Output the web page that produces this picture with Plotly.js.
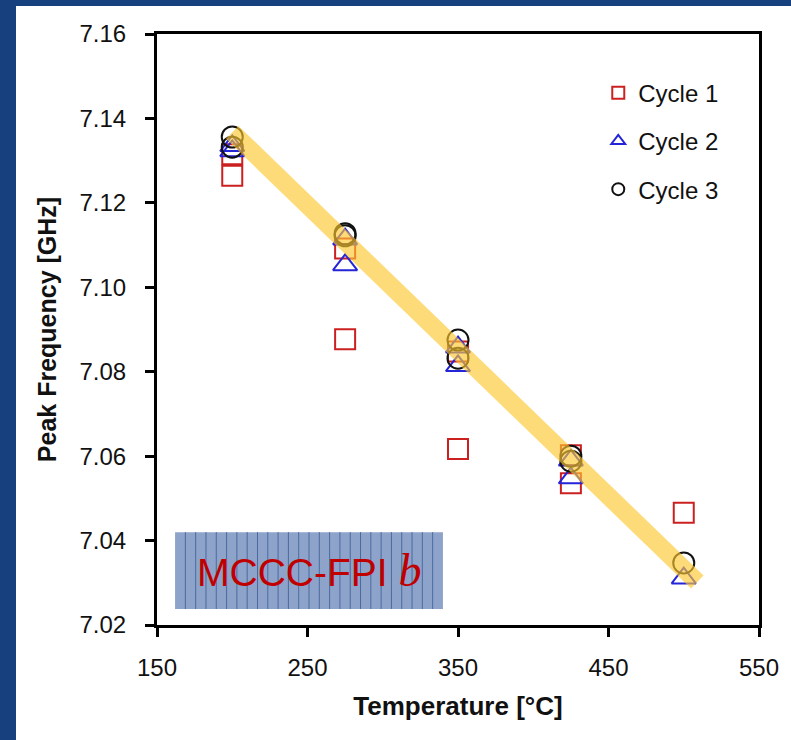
<!DOCTYPE html>
<html>
<head>
<meta charset="utf-8">
<script src="https://cdn.plot.ly/plotly-3.0.1.min.js"></script>
<style>
  html, body { margin: 0; padding: 0; width: 791px; height: 740px; background: #17417e; overflow: hidden; }
  #chart { position: absolute; left: 16px; top: 6px; width: 775px; height: 734px; background: #ffffff; }
</style>
</head>
<body>
<div id="chart"></div>
<script>
// ---- data ----
var cycle1X = [200, 200, 275, 275, 350, 350, 425, 425, 500];
var cycle1Y = [7.1315, 7.1264, 7.1092, 7.0877, 7.0848, 7.0617, 7.0602, 7.0536, 7.0466];

var cycle2X = [200, 200, 275, 275, 350, 350, 425, 425, 500];
var cycle2Y = [7.1335, 7.1323, 7.1114, 7.1053, 7.0858, 7.0814, 7.0590, 7.0548, 7.0311];

var cycle3X = [200, 200, 275, 275, 350, 350, 425, 425, 500];
var cycle3Y = [7.1356, 7.1332, 7.1127, 7.1122, 7.0875, 7.0832, 7.0600, 7.0588, 7.0347];

var fitX = [200, 509];
var fitY = [7.1367, 7.0302];

var seriesNames = ["Cycle 1", "Cycle 2", "Cycle 3"];
var xTicks = [150, 250, 350, 450, 550];
var yTicks = [7.02, 7.04, 7.06, 7.08, 7.10, 7.12, 7.14, 7.16];

var labelBoxX = [162, 340];
var labelBoxY = [7.0238, 7.0420];
var labelText = "MCCC-FPI";
var labelItalic = "b";

// ---- styling ----
var FONT = "'Liberation Sans', Arial, sans-serif";

var traces = [
  {
    x: cycle1X, y: cycle1Y, type: "scatter", mode: "markers", name: seriesNames[0],
    legendgroup: "g1",
    marker: { symbol: "square-open", size: 20, color: "#cc2020", line: { width: 2, color: "#cc2020" } }
  },
  {
    x: cycle2X, y: cycle2Y, type: "scatter", mode: "markers", name: seriesNames[1],
    legendgroup: "g2",
    marker: { symbol: "triangle-up-open", size: 21, color: "#2424d8", line: { width: 2, color: "#2424d8" } }
  },
  {
    x: cycle3X, y: cycle3Y, type: "scatter", mode: "markers", name: seriesNames[2],
    legendgroup: "g3",
    marker: { symbol: "circle-open", size: 21, color: "#111111", line: { width: 2, color: "#111111" } }
  },
  {
    x: fitX, y: fitY, type: "scatter", mode: "lines", showlegend: false, hoverinfo: "skip",
    line: { color: "rgba(253,198,45,0.64)", width: 18 }
  }
];

// label box with vertical hatch lines
var shapes = [{
  type: "rect", xref: "x", yref: "y", layer: "below",
  x0: labelBoxX[0], x1: labelBoxX[1], y0: labelBoxY[0], y1: labelBoxY[1],
  fillcolor: "#8ea3c9", line: { width: 0 }
}];
var nLines = 26;
for (var i = 1; i < nLines; i++) {
  var xx = labelBoxX[0] + (labelBoxX[1] - labelBoxX[0]) * i / nLines;
  shapes.push({
    type: "line", xref: "x", yref: "y", layer: "below",
    x0: xx, x1: xx, y0: labelBoxY[0], y1: labelBoxY[1],
    line: { color: "#4a6aa0", width: 1 }
  });
}

var layout = {
  width: 775, height: 734,
  paper_bgcolor: "#ffffff", plot_bgcolor: "#ffffff",
  margin: { l: 141, r: 32, t: 28, b: 115 },
  font: { family: FONT, color: "#111111" },
  showlegend: true,
  legend: {
    x: 0.733, y: 0.938, xanchor: "left", yanchor: "top",
    bgcolor: "rgba(0,0,0,0)",
    font: { family: FONT, size: 24, color: "#111111" },
    traceorder: "grouped", tracegroupgap: 14, itemsizing: "constant"
  },
  xaxis: {
    range: [150, 550], tickvals: xTicks, ticktext: xTicks.map(String),
    showgrid: false, zeroline: false,
    showline: true, linecolor: "#000000", linewidth: 3, mirror: true,
    ticks: "outside", ticklen: 9, tickwidth: 3, tickcolor: "#000000",
    ticklabelstandoff: 10,
    tickfont: { family: FONT, size: 24, color: "#111111" },
    title: { text: "Temperature [°C]", standoff: 18, font: { family: FONT, size: 26, color: "#111111", weight: "bold" } }
  },
  yaxis: {
    range: [7.02, 7.16], tickvals: yTicks, ticktext: yTicks.map(function (v) { return v.toFixed(2); }),
    showgrid: false, zeroline: false,
    showline: true, linecolor: "#000000", linewidth: 3, mirror: true,
    ticks: "outside", ticklen: 9, tickwidth: 3, tickcolor: "#000000",
    ticklabelstandoff: 14,
    tickfont: { family: FONT, size: 24, color: "#111111" },
    title: { text: "Peak Frequency [GHz]", standoff: 16, font: { family: FONT, size: 25, color: "#111111", weight: "bold" } }
  },
  shapes: shapes,
  annotations: [{
    xref: "x", yref: "y",
    x: (labelBoxX[0] + labelBoxX[1]) / 2, y: (labelBoxY[0] + labelBoxY[1]) / 2,
    xanchor: "center", yanchor: "middle", showarrow: false,
    text: labelText + " <span style=\"font-family:'Liberation Serif',serif;font-style:italic;font-size:46px\">" + labelItalic + "</span>",
    font: { family: FONT, size: 39, color: "#c00000" }
  }]
};

Plotly.newPlot("chart", traces, layout, { displayModeBar: false, staticPlot: true });
</script>
</body>
</html>
